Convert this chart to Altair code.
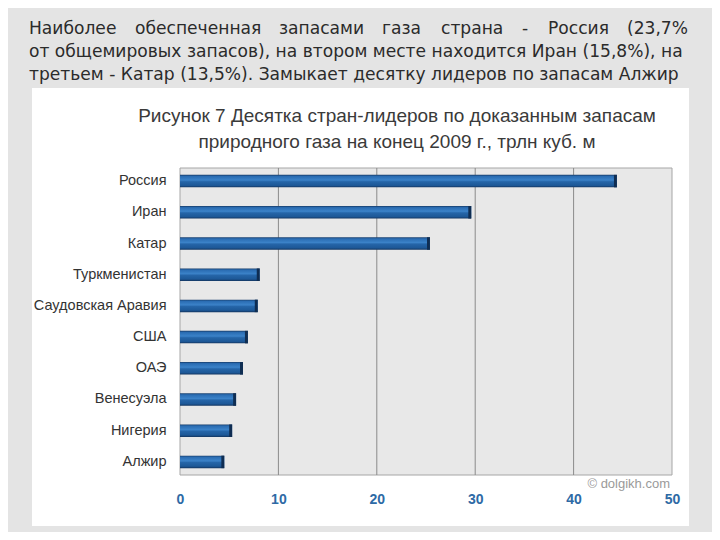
import altair as alt
import pandas as pd

# ---- data ----
countries = ["Россия", "Иран", "Катар", "Туркменистан", "Саудовская Аравия",
             "США", "ОАЭ", "Венесуэла", "Нигерия", "Алжир"]
reserves = [44.4, 29.6, 25.4, 8.1, 7.9, 6.9, 6.4, 5.7, 5.3, 4.5]
tick_values = [0, 10, 20, 30, 40, 50]

title_lines = ["Рисунок 7 Десятка стран-лидеров по доказанным запасам",
               "природного газа на конец 2009 г., трлн куб. м"]
para_line1_words = ["Наиболее", "обеспеченная", "запасами", "газа", "страна", "-",
                    "Россия", "(23,7%"]
para_line2 = "от общемировых запасов), на втором месте находится Иран (15,8%), на"
para_line3 = "третьем - Катар (13,5%). Замыкает десятку лидеров по запасам Алжир"
watermark = "© dolgikh.com"

# ---- layout (pixels relative to plot origin) ----
W, H = 492, 307
word_x = [-151, -45, 99, 202, 261, 342, 368, 508]
word_align = ["left"] * 7 + ["right"]
para_y = [-139, -116, -93]
SANS = "Liberation Sans, Arial, sans-serif"
PARA_FONT = "DejaVu Sans, sans-serif"
PARA_SIZE = 17.1

df = pd.DataFrame({"country": countries, "value": reserves})
df["cap_start"] = df["value"] - 0.3
one = alt.Data(values=[{"k": 1}])

xscale = alt.Scale(domain=[0, 50], nice=False, zero=True)
yscale = alt.Scale(paddingInner=0.6, paddingOuter=0.22)

x_axis = alt.Axis(values=tick_values, grid=False, domain=False, ticks=False,
                  labelFont=SANS, labelFontSize=14, labelFontWeight="bold",
                  labelColor="#2e6aa5", labelPadding=17, labelFlush=False,
                  title=None, zindex=1)
y_axis = alt.Axis(domain=False, ticks=False, labelFont=SANS, labelFontSize=14.5,
                  labelColor="#333333", labelPadding=14, title=None,
                  labelLimit=300, zindex=1)

white_box = alt.Chart(one).mark_rect(fill="white").encode(
    x=alt.value(-148), x2=alt.value(509), y=alt.value(-80), y2=alt.value(358))

plot_bg = alt.Chart(one).mark_rect(fill="#e8e8e8", stroke="#a6a6a6", strokeWidth=1).encode(
    x=alt.value(0), x2=alt.value(W), y=alt.value(0), y2=alt.value(H))

grid = alt.Chart(pd.DataFrame({"g": tick_values[1:-1]})).mark_rule(
    color="#8a8a8a", strokeWidth=1).encode(
    x=alt.X("g:Q", scale=xscale, axis=x_axis))

bar_gradient = alt.Gradient(
    gradient="linear", x1=0, x2=0, y1=0, y2=1,
    stops=[alt.GradientStop(color="#173d6b", offset=0),
           alt.GradientStop(color="#2a6cb2", offset=0.12),
           alt.GradientStop(color="#3b82c8", offset=0.42),
           alt.GradientStop(color="#2565a8", offset=0.55),
           alt.GradientStop(color="#1d5897", offset=0.85),
           alt.GradientStop(color="#133560", offset=1)])

bars = alt.Chart(df).mark_bar(color=bar_gradient).encode(
    x=alt.X("value:Q", scale=xscale, axis=x_axis),
    y=alt.Y("country:N", sort=countries, scale=yscale, axis=y_axis))

caps = alt.Chart(df).mark_bar(color="#0f2d52").encode(
    x=alt.X("cap_start:Q", scale=xscale, axis=x_axis),
    x2="value:Q",
    y=alt.Y("country:N", sort=countries, scale=yscale, axis=y_axis))

layers = [white_box, plot_bg, grid, bars, caps]

for i, line in enumerate(title_lines):
    layers.append(alt.Chart(one).mark_text(
        font=SANS, fontSize=19, color="#3a3a3a", align="center", baseline="middle").encode(
        x=alt.value(217), y=alt.value(-52 + 26 * i), text=alt.value(line)))

for w, xw, al in zip(para_line1_words, word_x, word_align):
    layers.append(alt.Chart(one).mark_text(
        font=PARA_FONT, fontSize=PARA_SIZE, color="#2b2b2b", align=al, baseline="middle").encode(
        x=alt.value(xw), y=alt.value(para_y[0]), text=alt.value(w)))

for line, yy in zip([para_line2, para_line3], para_y[1:]):
    layers.append(alt.Chart(one).mark_text(
        font=PARA_FONT, fontSize=PARA_SIZE, color="#2b2b2b", align="left", baseline="middle").encode(
        x=alt.value(-151), y=alt.value(yy), text=alt.value(line)))

layers.append(alt.Chart(one).mark_text(
    font=SANS, fontSize=13, color="#9a9a9a",
    align="right", baseline="middle").encode(
    x=alt.value(490), y=alt.value(316), text=alt.value(watermark)))

chart = alt.layer(*layers).properties(
    width=W, height=H,
    autosize=alt.AutoSizeParams(type="none"),
    padding={"left": 172, "top": 160, "right": 40, "bottom": 57},
    background="#e4e4e4",
).configure_view(strokeWidth=0)

chart.save("out.html", embed_options={"renderer": "svg", "actions": False})
